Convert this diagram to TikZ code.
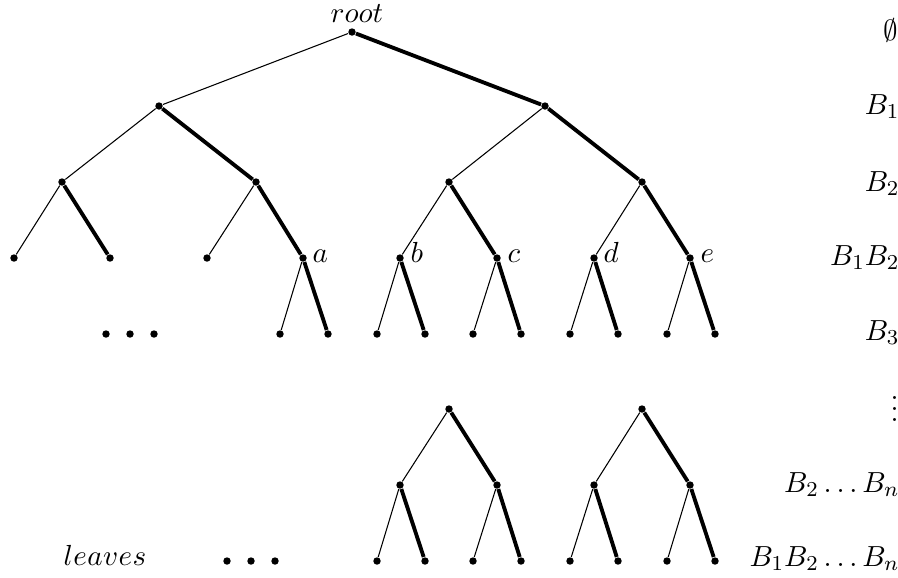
\documentclass[tikz,border=0pt]{standalone}
\begin{document}
\begin{tikzpicture}[x=0.377pt,y=-0.377pt,
  every node/.style={font=\fontsize{10.8}{13}\selectfont},
  vtx/.style={circle,fill,inner sep=0pt,minimum size=2.8pt},
  lite/.style={line width=0.4pt},
  heavy/.style={line width=1.45pt},
  lbl/.style={inner sep=0pt,anchor=base west},
  rlbl/.style={inner sep=0pt,anchor=base east}]
\useasboundingbox (0,0) rectangle (898,577);
% upper tree
\node[vtx] (r) at (352,32) {};
\node[vtx] (l1a) at (159,106) {};
\node[vtx] (l1b) at (545,106) {};
\node[vtx] (l2a) at (62,182) {};
\node[vtx] (l2b) at (256,182) {};
\node[vtx] (l2c) at (449,182) {};
\node[vtx] (l2d) at (642,182) {};
\node[vtx] (l3a) at (14,258) {};
\node[vtx] (l3b) at (110,258) {};
\node[vtx] (l3c) at (207,258) {};
\node[vtx] (na) at (303,258) {};
\node[vtx] (nb) at (400,258) {};
\node[vtx] (nc) at (497,258) {};
\node[vtx] (nd) at (594,258) {};
\node[vtx] (ne) at (690,258) {};
\node[vtx] (a1) at (280,334) {};
\node[vtx] (a2) at (328,334) {};
\node[vtx] (b1) at (377,334) {};
\node[vtx] (b2) at (425,334) {};
\node[vtx] (c1) at (473,334) {};
\node[vtx] (c2) at (521,334) {};
\node[vtx] (d1) at (570,334) {};
\node[vtx] (d2) at (618,334) {};
\node[vtx] (e1) at (667,334) {};
\node[vtx] (e2) at (715,334) {};
\node[vtx] (u1) at (106,334) {};
\node[vtx] (u2) at (130,334) {};
\node[vtx] (u3) at (154,334) {};
\draw[lite] (r) -- (l1a);
\draw[heavy] (r) -- (l1b);
\draw[lite] (l1a) -- (l2a);
\draw[heavy] (l1a) -- (l2b);
\draw[lite] (l1b) -- (l2c);
\draw[heavy] (l1b) -- (l2d);
\draw[lite] (l2a) -- (l3a);
\draw[heavy] (l2a) -- (l3b);
\draw[lite] (l2b) -- (l3c);
\draw[heavy] (l2b) -- (na);
\draw[lite] (l2c) -- (nb);
\draw[heavy] (l2c) -- (nc);
\draw[lite] (l2d) -- (nd);
\draw[heavy] (l2d) -- (ne);
\draw[lite] (na) -- (a1);
\draw[heavy] (na) -- (a2);
\draw[lite] (nb) -- (b1);
\draw[heavy] (nb) -- (b2);
\draw[lite] (nc) -- (c1);
\draw[heavy] (nc) -- (c2);
\draw[lite] (nd) -- (d1);
\draw[heavy] (nd) -- (d2);
\draw[lite] (ne) -- (e1);
\draw[heavy] (ne) -- (e2);
% lower trees
\node[vtx] (m1) at (449,409) {};
\node[vtx] (m2) at (642,409) {};
\node[vtx] (p1) at (400,485) {};
\node[vtx] (p2) at (497,485) {};
\node[vtx] (p3) at (594,485) {};
\node[vtx] (p4) at (690,485) {};
\node[vtx] (q1) at (377,561) {};
\node[vtx] (q2) at (425,561) {};
\node[vtx] (q3) at (473,561) {};
\node[vtx] (q4) at (521,561) {};
\node[vtx] (q5) at (570,561) {};
\node[vtx] (q6) at (618,561) {};
\node[vtx] (q7) at (667,561) {};
\node[vtx] (q8) at (715,561) {};
\node[vtx] (w1) at (227,561) {};
\node[vtx] (w2) at (251,561) {};
\node[vtx] (w3) at (275,561) {};
\draw[lite] (m1) -- (p1);
\draw[heavy] (m1) -- (p2);
\draw[lite] (m2) -- (p3);
\draw[heavy] (m2) -- (p4);
\draw[lite] (p1) -- (q1);
\draw[heavy] (p1) -- (q2);
\draw[lite] (p2) -- (q3);
\draw[heavy] (p2) -- (q4);
\draw[lite] (p3) -- (q5);
\draw[heavy] (p3) -- (q6);
\draw[lite] (p4) -- (q7);
\draw[heavy] (p4) -- (q8);
% labels
\node[inner sep=0pt,anchor=base] (troot) at (357,22) {$root$};
\node[inner sep=0pt,anchor=base] (tleaves) at (105,565) {$l\mkern0.3mu e\mkern0.3mu a\mkern0.3mu v\mkern0.3mu e\mkern0.3mu s$};
\node[lbl] (ta) at (312,262) {$a$};
\node[lbl] (tb) at (410,262) {$b$};
\node[lbl] (tc) at (507,262) {$c$};
\node[lbl] (td) at (603,262) {$d$};
\node[lbl] (te) at (700,262) {$e$};
% right column
\node[rlbl] (s0) at (899,40) {$\emptyset$};
\node[rlbl] (s1) at (900,114) {$B_1$};
\node[rlbl] (s2) at (900,191) {$B_2$};
\node[rlbl] (s3) at (900,265) {$B_1B_2$};
\node[rlbl] (s4) at (900,340) {$B_3$};
\node[rlbl] (s5) at (899,421) {$\vdots$};
\node[rlbl] (s6) at (900,492) {$B_2\ldots B_n$};
\node[rlbl] (s7) at (900,566) {$B_1B_2\ldots B_n$};
\end{tikzpicture}
\end{document}
